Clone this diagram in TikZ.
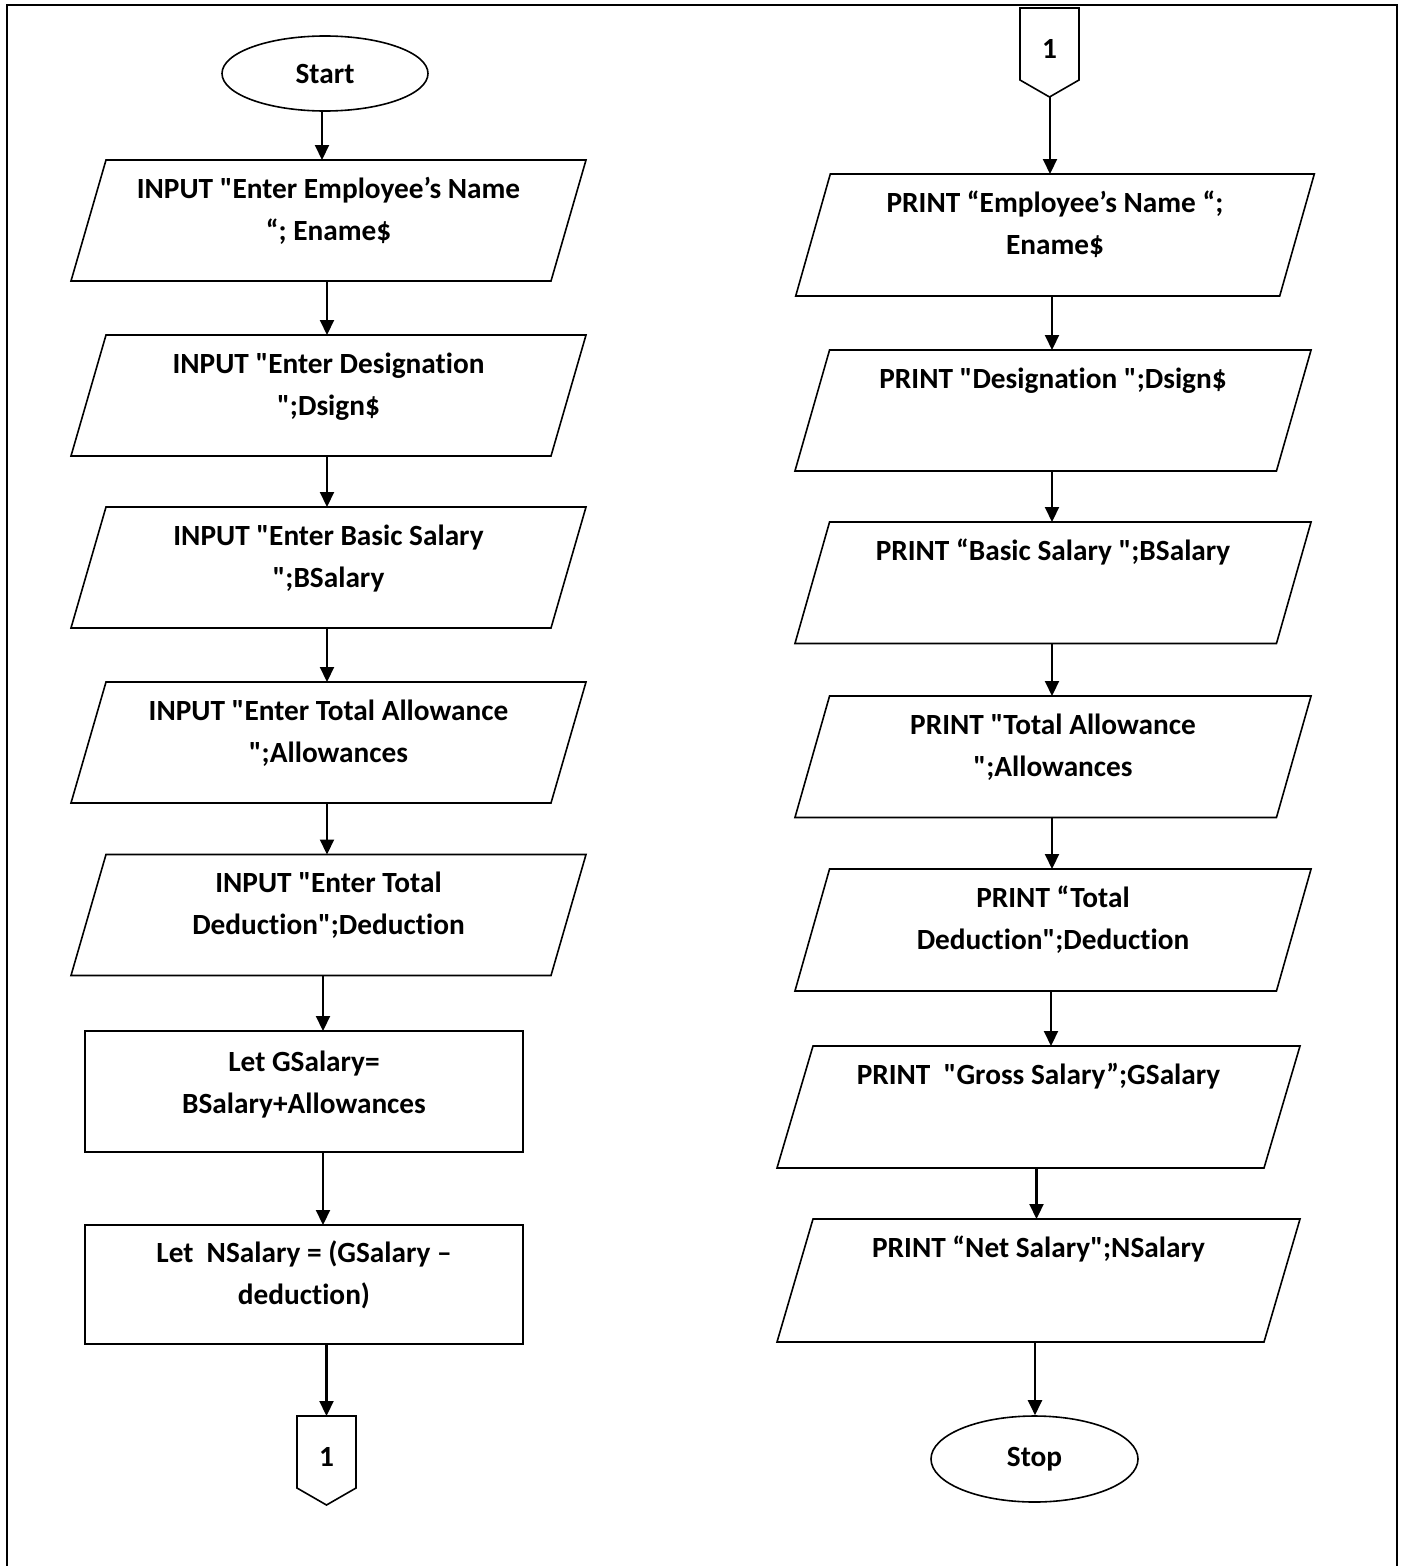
\documentclass[tikz,border=0pt]{standalone}
\usepackage{fontspec}
% family without the TeX quote mapping, so " stays a straight quote
\newfontfamily\chartfont{Carlito}[Ligatures=CommonOff]
\usetikzlibrary{shapes.geometric,arrows.meta,calc}

% parallelogram (input/output) drawn round a named holder node; #2 = half slant
\newcommand\iobox[2]{%
  \draw[outline] ([xshift=-#2pt]#1.south west) -- ([xshift=-#2pt]#1.south east)
    -- ([xshift=#2pt]#1.north east) -- ([xshift=#2pt]#1.north west) -- cycle;}
% off-page connector pointing down; #2 = depth of the point
\newcommand\offpage[2]{%
  \draw[outline] (#1.north west) -- (#1.north east) -- ([yshift=#2pt]#1.south east)
    -- (#1.south) -- ([yshift=#2pt]#1.south west) -- cycle;}

\begin{document}
\begin{tikzpicture}[x=1pt,y=-1pt,
  outline/.style={line width=1.6pt, line join=miter},
  holder/.style={rectangle, inner sep=0pt, outer sep=0pt},
  procbox/.style={rectangle, draw, line width=1.6pt, inner sep=0pt, outer sep=0pt},
  lblfont/.style={font=\chartfont\bfseries\fontsize{29.3}{42}\selectfont},
  term/.style={ellipse, draw, line width=1.6pt, inner sep=0pt, lblfont},
  txt/.style={lblfont, align=center, inner sep=0pt, anchor=north},
  conn/.style={holder, minimum width=59pt, minimum height=89pt, text depth=8pt, lblfont},
  arr/.style={line width=2.1pt, -{Triangle[length=15pt,width=14pt]}}]

\useasboundingbox (0,0) rectangle (1403,1566);
% page frame
\draw[line width=2.2pt] (7,1566) -- (7,5) -- (1397,5) -- (1397,1566);

% ---------- left column ----------
\node[term, minimum width=206pt, minimum height=75pt] (start) at (325,73.5) {Start};

\node[holder, minimum width=480pt, minimum height=121pt] (p1) at (328.5,220.5) {};
\node[holder, minimum width=480pt, minimum height=121pt] (p2) at (328.5,395.5) {};
\node[holder, minimum width=480pt, minimum height=121pt] (p3) at (328.5,567.5) {};
\node[holder, minimum width=480pt, minimum height=121pt] (p4) at (328.5,742.5) {};
\node[holder, minimum width=480pt, minimum height=121pt] (p5) at (328.5,915) {};
\foreach \n in {p1,p2,p3,p4,p5} {\iobox{\n}{17.5}}

\node[txt] (p1t) at (328.5,168.6) {\strut INPUT "Enter Employee’s Name\\“; Ename\$};
\node[txt] (p2t) at (328.5,343.6) {\strut INPUT "Enter Designation\\";Dsign\$};
\node[txt] (p3t) at (328.5,515.6) {\strut INPUT "Enter Basic Salary\\";BSalary};
\node[txt] (p4t) at (328.5,690.6) {\strut INPUT "Enter Total Allowance\\";Allowances};
\node[txt] (p5t) at (328.5,863.1) {\strut INPUT "Enter Total\\Deduction";Deduction};

\node[procbox, minimum width=438pt, minimum height=121pt] (ra) at (304,1091.5) {};
\node[procbox, minimum width=438pt, minimum height=119pt] (rb) at (304,1284.5) {};
\node[txt] (rat) at (304,1042) {\strut Let GSalary=\\BSalary+Allowances};
\node[txt] (rbt) at (304,1232.6) {\strut Let\ \ NSalary = (GSalary –\\deduction)};

\node[conn] (off1) at (326.5,1460.5) {1};
\offpage{off1}{17}

% ---------- right column ----------
\node[conn] (off2) at (1049.5,52.5) {1};
\offpage{off2}{17}

\node[holder, minimum width=484pt, minimum height=122pt] (q1) at (1055,235) {};
\node[holder, minimum width=481.5pt, minimum height=121pt] (q2) at (1053,410.5) {};
\node[holder, minimum width=481.5pt, minimum height=121.5pt] (q3) at (1053,582.75) {};
\node[holder, minimum width=481.5pt, minimum height=121.5pt] (q4) at (1053,756.75) {};
\node[holder, minimum width=481.5pt, minimum height=122pt] (q5) at (1053,930) {};
\node[holder, minimum width=487pt, minimum height=122pt] (q6) at (1038.5,1107) {};
\node[holder, minimum width=487pt, minimum height=123pt] (q7) at (1038.5,1280.5) {};
\foreach \n in {q1,q2,q3,q4,q5} {\iobox{\n}{17.3}}
\foreach \n in {q6,q7} {\iobox{\n}{18}}

\node[txt] (q1t) at (1055,182.6) {\strut PRINT “Employee’s Name “;\\Ename\$};
\node[txt] (q2t) at (1053,358.6) {\strut PRINT "Designation ";Dsign\$};
\node[txt] (q3t) at (1053,530.6) {\strut PRINT “Basic Salary ";BSalary};
\node[txt] (q4t) at (1053,704.6) {\strut PRINT "Total Allowance\\";Allowances};
\node[txt] (q5t) at (1053,877.6) {\strut PRINT “Total\\Deduction";Deduction};
\node[txt] (q6t) at (1038.5,1054.6) {\strut PRINT\ \ "Gross Salary”;GSalary};
\node[txt] (q7t) at (1038.5,1227.6) {\strut PRINT “Net Salary";NSalary};

\node[term, minimum width=207pt, minimum height=86pt] (stop) at (1034.5,1459) {Stop};

% ---------- connectors ----------
\coordinate (la) at (322,0);
\coordinate (lb) at (327,0);
\coordinate (lc) at (323,0);
\coordinate (ld) at (326.5,0);
\coordinate (ra0) at (1050,0);
\coordinate (rb0) at (1052,0);
\coordinate (rc0) at (1051,0);
\coordinate (rd0) at (1036.5,0);
\coordinate (re0) at (1035,0);

\draw[arr] (start.south -| la) -- (p1.north -| la);
\draw[arr] (p1.south -| lb) -- (p2.north -| lb);
\draw[arr] (p2.south -| lb) -- (p3.north -| lb);
\draw[arr] (p3.south -| lb) -- (p4.north -| lb);
\draw[arr] (p4.south -| lb) -- (p5.north -| lb);
\draw[arr] (p5.south -| lc) -- (ra.north -| lc);
\draw[arr] (ra.south -| lc) -- (rb.north -| lc);
\draw[arr] (rb.south -| ld) -- (off1.north -| ld);

\draw[arr] (off2.south -| ra0) -- (q1.north -| ra0);
\draw[arr] (q1.south -| rb0) -- (q2.north -| rb0);
\draw[arr] (q2.south -| rb0) -- (q3.north -| rb0);
\draw[arr] (q3.south -| rb0) -- (q4.north -| rb0);
\draw[arr] (q4.south -| rb0) -- (q5.north -| rb0);
\draw[arr] (q5.south -| rc0) -- (q6.north -| rc0);
\draw[arr] (q6.south -| rd0) -- (q7.north -| rd0);
\draw[arr] (q7.south -| re0) -- (stop.north -| re0);
\end{tikzpicture}
\end{document}
